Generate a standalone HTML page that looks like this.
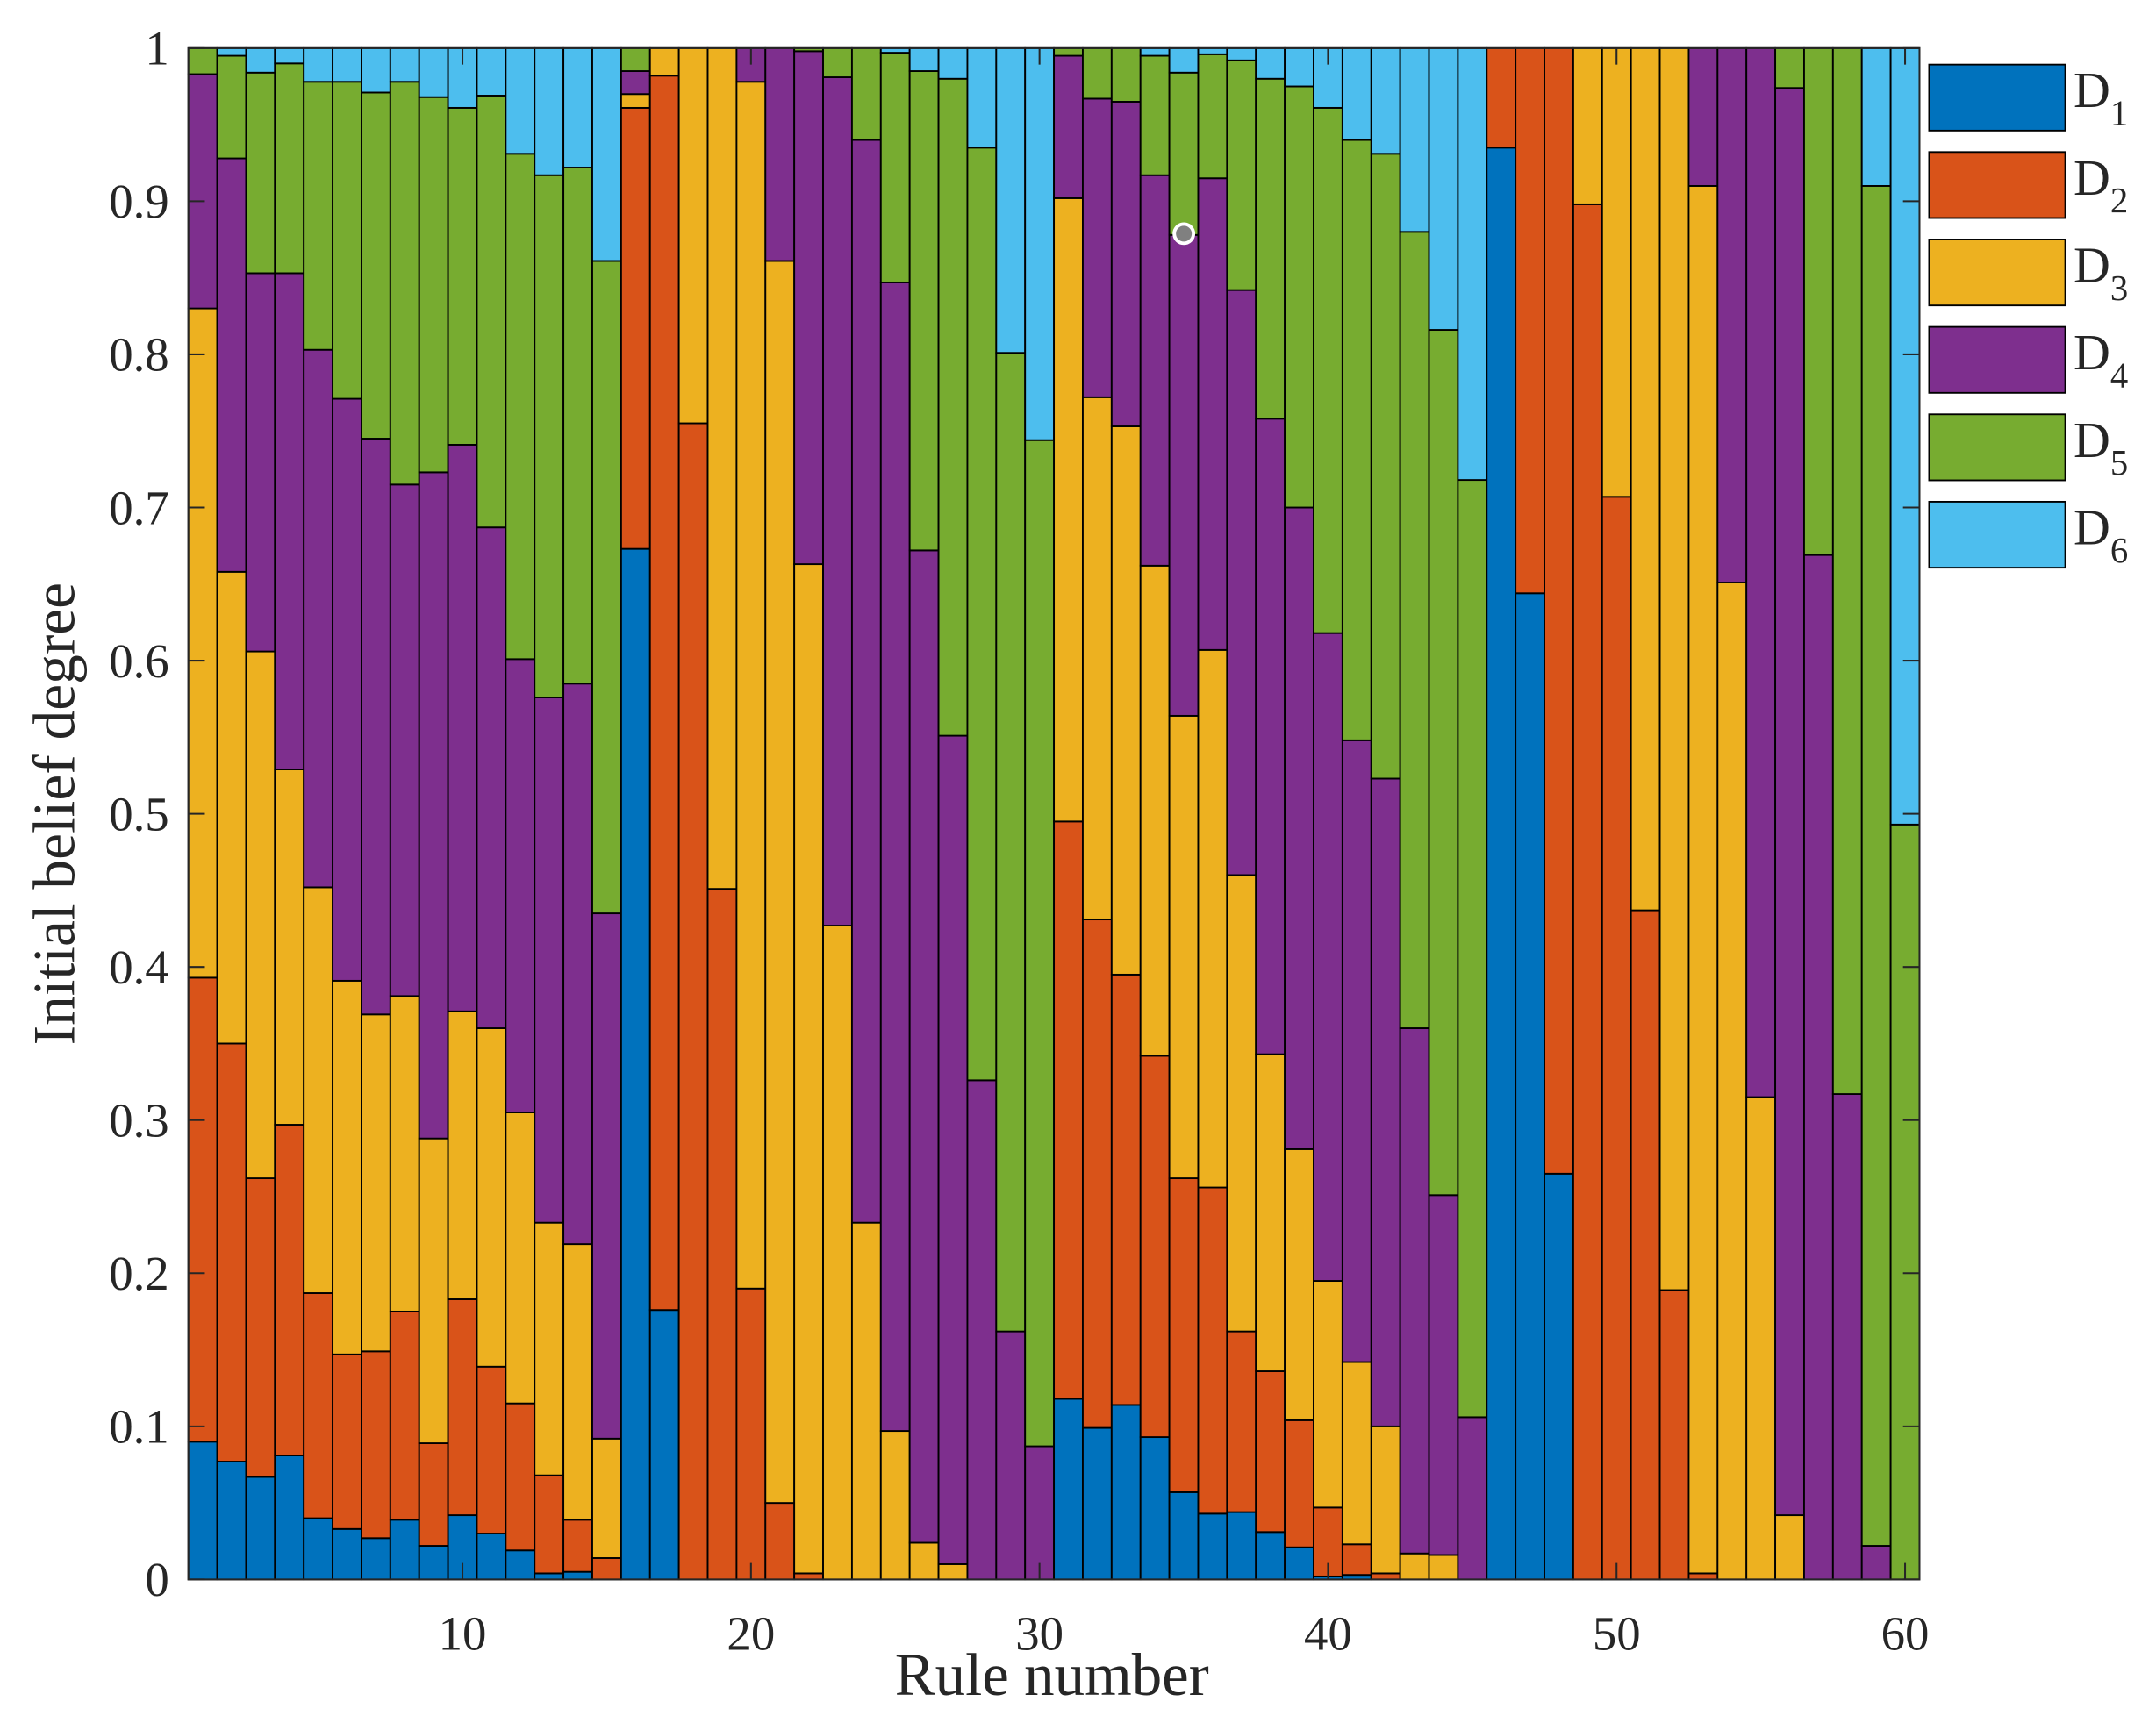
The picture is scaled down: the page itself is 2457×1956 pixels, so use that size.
<!DOCTYPE html>
<html><head><meta charset="utf-8"><style>
html,body{margin:0;padding:0;background:#fff;}
svg{display:block;}
text{font-family:"Liberation Serif",serif;fill:#262626;}
</style></head><body>
<svg id="chart" width="2457" height="1956" viewBox="0 0 1568 1248.3" preserveAspectRatio="none" xmlns="http://www.w3.org/2000/svg">
<rect width="1568" height="1248.3" fill="#fff"/>
<g id="bars"></g>
<g id="axes"></g>
<g id="legend"></g>
</svg>
<script>
const yTicks=[0,0.1,0.2,0.3,0.4,0.5,0.6,0.7,0.8,0.9,1];
const yTickLabels=["0","0.1","0.2","0.3","0.4","0.5","0.6","0.7","0.8","0.9","1"];
const xTicks=[10,20,30,40,50,60];
const seriesNames=["D1","D2","D3","D4","D5","D6"];
const d1=[.09,.077,.067,.081,.04,.033,.027,.039,.022,.042,.03,.019,.004,.005,0,.673,.176,0,0,0,0,0,0,0,0,0,0,0,0,0,.118,.099,.114,.093,.057,.043,.044,.031,.021,.002,.003,0,0,0,0,.935,.644,.265,0,0,0,0,0,0,0,0,0,0,0,0];
const d2=[.303,.273,.195,.216,.147,.114,.122,.136,.067,.141,.109,.096,.064,.034,.014,.288,.806,.755,.451,.19,.05,.004,0,0,0,0,0,0,0,0,.377,.332,.281,.249,.205,.213,.118,.105,.083,.045,.02,.004,0,0,0,.065,.356,.735,.898,.707,.437,.189,.004,0,0,0,0,0,0,0];
const d3=[.437,.308,.344,.232,.265,.244,.22,.206,.199,.188,.221,.19,.165,.18,.078,.009,.018,.245,.549,.788,.811,.659,.427,.233,.097,.024,.01,0,0,0,.407,.341,.358,.32,.302,.351,.298,.207,.177,.148,.119,.096,.017,.016,0,0,0,0,.102,.293,.563,.811,.906,.651,.315,.042,0,0,0,0];
const d4=[.153,.27,.247,.324,.351,.38,.376,.334,.435,.37,.327,.296,.343,.366,.343,.015,0,0,0,.022,.139,.335,.554,.707,.75,.648,.541,.326,.162,.087,.093,.195,.212,.255,.314,.308,.382,.415,.419,.423,.406,.423,.343,.235,.106,0,0,0,0,0,0,0,.09,.349,.685,.932,.669,.317,.022,0];
const d5=[.017,.067,.131,.137,.175,.207,.226,.263,.245,.22,.282,.33,.341,.337,.426,.015,0,0,0,0,0,.002,.019,.06,.15,.313,.429,.609,.639,.657,.005,.033,.035,.078,.106,.081,.15,.222,.275,.343,.392,.408,.52,.565,.612,0,0,0,0,0,0,0,0,0,0,.026,.331,.683,.888,.493];
const d6=[0,.005,.016,.01,.022,.022,.029,.022,.032,.039,.031,.069,.083,.078,.139,0,0,0,0,0,0,0,0,0,.003,.015,.02,.065,.199,.256,0,0,0,.005,.016,.004,.008,.02,.025,.039,.06,.069,.12,.184,.282,0,0,0,0,0,0,0,0,0,0,0,0,0,.09,.507];
const series=[d1,d2,d3,d4,d5,d6];
const colors=["#0072BD","#D95319","#EDB120","#7E2F8E","#77AC30","#4DBEEE"];
const NS="http://www.w3.org/2000/svg";
const L=137,R=1396,T=35,B=1149;
const xMin=0.5,xMax=60.5;
const xs=v=>L+(v-xMin)/(xMax-xMin)*(R-L);
const ys=v=>B-v*(B-T);
function mk(tag,attrs,parent){const e=document.createElementNS(NS,tag);for(const k in attrs)e.setAttribute(k,attrs[k]);parent.appendChild(e);return e;}
const gb=document.getElementById('bars');
for(let i=0;i<d1.length;i++){
  let cum=0;
  for(let s=0;s<series.length;s++){
    const v=series[s][i];
    const r=mk('rect',{x:xs(i+1-0.5),y:ys(cum+v),width:xs(i+1.5)-xs(i+0.5),height:ys(cum)-ys(cum+v),fill:colors[s],stroke:'#000','stroke-width':1.2},gb);
    
    
    cum+=v;
  }
}
const ga=document.getElementById('axes');
const frame=mk('rect',{x:L,y:T,width:R-L,height:B-T,fill:'none',stroke:'#262626','stroke-width':1.3},ga);


yTicks.forEach((t,k)=>{
  const y=ys(t);
  mk('line',{x1:L,x2:L+12,y1:y,y2:y,stroke:'#262626','stroke-width':1.3},ga);
  mk('line',{x1:R,x2:R-12,y1:y,y2:y,stroke:'#262626','stroke-width':1.3},ga);
  const tx=mk('text',{x:123,y:y+12,'text-anchor':'end','font-size':35},ga);
  tx.textContent=yTickLabels[k];
  
  
});
xTicks.forEach(t=>{
  const x=xs(t);
  mk('line',{x1:x,x2:x,y1:B,y2:B-12,stroke:'#262626','stroke-width':1.3},ga);
  mk('line',{x1:x,x2:x,y1:T,y2:T+12,stroke:'#262626','stroke-width':1.3},ga);
  const tx=mk('text',{x:x,y:1200,'text-anchor':'middle','font-size':35},ga);
  tx.textContent=String(t);
  
  
});
const xl=mk('text',{x:765,y:1233,'text-anchor':'middle','font-size':44},ga);
xl.textContent='Rule number';


const yl=mk('text',{x:0,y:0,'text-anchor':'middle','font-size':43,transform:'translate(54,592) rotate(-90)'},ga);
yl.textContent='Initial belief degree';


const tip=mk('circle',{cx:861,cy:170,r:7,fill:'#808080',stroke:'#fff','stroke-width':2.5},ga);


const gl=document.getElementById('legend');
seriesNames.forEach((n,s)=>{
  const y0=47+s*63.6;
  const sw=mk('rect',{x:1403,y:y0,width:99,height:48,fill:colors[s],stroke:'#000','stroke-width':1.2},gl);
  
  
  const tx=mk('text',{x:1508,y:y0+31,'font-size':37},gl);
  
  
  const t1=document.createElementNS(NS,'tspan');t1.textContent='D';tx.appendChild(t1);
  const t2=mk('tspan',{dy:13,'font-size':26},tx);t2.textContent=n.slice(1);
});
</script>
</body></html>
